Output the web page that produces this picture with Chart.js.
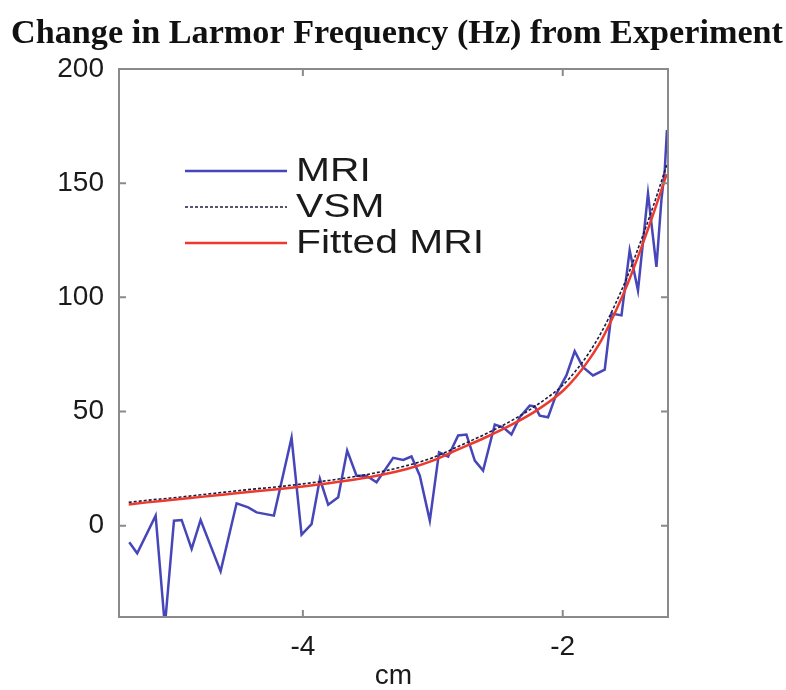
<!DOCTYPE html>
<html>
<head>
<meta charset="utf-8">
<title>Change in Larmor Frequency</title>
<script src="https://cdn.jsdelivr.net/npm/chart.js@4.4.1/dist/chart.umd.min.js"></script>
<style>
  html, body { margin: 0; padding: 0; background: #fff; }
  #wrap { width: 786px; height: 690px; }
</style>
</head>
<body>
<div id="wrap"><canvas id="chart" width="786" height="690"></canvas></div>
<script>
// MRI measurement (cm, Hz)
const mriX = [-5.336, -5.275, -5.133, -5.062, -4.992, -4.933, -4.856, -4.787, -4.633, -4.51,
  -4.421, -4.356, -4.223, -4.087, -4.01, -3.933, -3.869, -3.805, -3.728, -3.659,
  -3.587, -3.51, -3.433, -3.305, -3.228, -3.164, -3.1, -3.023, -2.952, -2.882,
  -2.805, -2.741, -2.677, -2.613, -2.523, -2.459, -2.395, -2.331, -2.254, -2.215,
  -2.177, -2.113, -2.048, -1.972, -1.908, -1.844, -1.767, -1.677, -1.625, -1.548,
  -1.485, -1.421, -1.344, -1.279, -1.241, -1.215, -1.198];
const mriY = [-7.3, -12.1, 4.4, -44, 2.2, 2.5, -10.2, 2.5, -20, 9.8,
  8.0, 5.8, 4.4, 38.5, -3.9, 0.7, 20.5, 9.2, 12.4, 32.9,
  21.9, 21.9, 19, 29.7, 28.8, 30.3, 21.9, 2.2, 32.1, 30.3,
  39.5, 39.9, 28.5, 24.1, 44.3, 43.1, 39.9, 47.5, 52.6, 52.2,
  48.2, 47.5, 57.8, 65.8, 76.4, 69.4, 65.8, 68.3, 92.9, 92.1,
  120.6, 103, 145.5, 113.3, 142.5, 155.7, 173.2];

// VSM and fitted MRI curves, sampled along x
const curveX = [-5.34, -5.2, -5.0, -4.8, -4.6, -4.4, -4.2, -4.0, -3.8, -3.6, -3.4, -3.2, -3.0,
  -2.8, -2.6, -2.4, -2.2, -2.0, -1.9, -1.8, -1.7, -1.6, -1.5, -1.4, -1.3, -1.2];
const vsmY = [10.2, 11.1, 12.2, 13.4, 14.7, 15.9, 17.0, 18.3, 19.8, 21.5, 23.6, 26.3, 29.8,
  34.8, 40.0, 45.8, 52.8, 61.5, 67.8, 75.5, 85.0, 96.5, 109.5, 124.5, 140.5, 158.0];
const fitY = [9.3, 10.2, 11.3, 12.5, 13.7, 14.9, 16.0, 17.2, 18.6, 20.2, 22.2, 24.8, 28.5,
  33.5, 38.5, 44.0, 50.5, 59.0, 65.0, 72.5, 81.5, 93.0, 106.0, 121.0, 137.0, 154.0];

const xTicks = [-4, -2];
const yTicks = [0, 50, 100, 150, 200];

const TITLE = 'Change in Larmor Frequency (Hz) from Experiment';
const COLORS = {
  mri: '#4646b8',
  vsm: '#1c1c3a',
  fit: '#ec3a2e',
  frame: '#8a8a8a',
  text: '#1a1a1a'
};

const toPoints = (xs, ys) => xs.map((x, i) => ({ x: x, y: ys[i] }));

// box around the plot with inward tick marks (all four sides)
const framePlugin = {
  id: 'frame',
  afterDraw(chart) {
    const { ctx, chartArea: a, scales } = chart;
    const tick = 7;
    ctx.save();
    ctx.strokeStyle = COLORS.frame;
    ctx.lineWidth = 2;
    ctx.strokeRect(a.left, a.top, a.right - a.left, a.bottom - a.top);
    ctx.beginPath();
    xTicks.forEach(v => {
      const px = scales.x.getPixelForValue(v);
      ctx.moveTo(px, a.bottom); ctx.lineTo(px, a.bottom - tick);
      ctx.moveTo(px, a.top); ctx.lineTo(px, a.top + tick);
    });
    yTicks.forEach(v => {
      const py = scales.y.getPixelForValue(v);
      ctx.moveTo(a.left, py); ctx.lineTo(a.left + tick, py);
      ctx.moveTo(a.right, py); ctx.lineTo(a.right - tick, py);
    });
    ctx.stroke();
    ctx.restore();
  }
};

// bold serif heading, squeezed to the figure width
const headingPlugin = {
  id: 'heading',
  afterDraw(chart) {
    const ctx = chart.ctx;
    ctx.save();
    ctx.font = 'bold 33px "Liberation Serif", "Times New Roman", serif';
    ctx.fillStyle = '#111';
    ctx.textBaseline = 'alphabetic';
    const w = ctx.measureText(TITLE).width;
    const sx = 772 / w;
    ctx.translate(397, 43);
    ctx.scale(sx, 1);
    ctx.textAlign = 'center';
    ctx.fillText(TITLE, 0, 0);
    ctx.restore();
  }
};

// legend inside the axes, no box
const keyPlugin = {
  id: 'key',
  afterDraw(chart) {
    const ctx = chart.ctx;
    const entries = [
      { label: 'MRI', color: COLORS.mri, width: 2.5, dash: [] },
      { label: 'VSM', color: COLORS.vsm, width: 1.6, dash: [3, 2] },
      { label: 'Fitted MRI', color: COLORS.fit, width: 2.5, dash: [] }
    ];
    const x0 = 185, x1 = 287, tx = 296, y0 = 171, gap = 36;
    ctx.save();
    ctx.font = '34px "Liberation Sans", Arial, sans-serif';
    const sx = 188 / ctx.measureText('Fitted MRI').width;
    entries.forEach((e, i) => {
      const y = y0 + i * gap;
      ctx.beginPath();
      ctx.setLineDash(e.dash);
      ctx.strokeStyle = e.color;
      ctx.lineWidth = e.width;
      ctx.moveTo(x0, y); ctx.lineTo(x1, y);
      ctx.stroke();
      ctx.setLineDash([]);
      ctx.save();
      ctx.translate(tx, y);
      ctx.scale(sx, 1);
      ctx.fillStyle = COLORS.text;
      ctx.textBaseline = 'middle';
      ctx.fillText(e.label, 0, 1);
      ctx.restore();
    });
    ctx.restore();
  }
};

const tickFont = { family: '"Liberation Sans", Arial, sans-serif', size: 28 };

new Chart(document.getElementById('chart'), {
  type: 'line',
  data: {
    datasets: [
      {
        label: 'MRI',
        data: toPoints(mriX, mriY),
        borderColor: COLORS.mri,
        borderWidth: 2.5,
        pointRadius: 0,
        tension: 0,
        order: 3
      },
      {
        label: 'VSM',
        data: toPoints(curveX, vsmY),
        borderColor: COLORS.vsm,
        borderWidth: 1.6,
        borderDash: [3, 2],
        pointRadius: 0,
        cubicInterpolationMode: 'monotone',
        order: 2
      },
      {
        label: 'Fitted MRI',
        data: toPoints(curveX, fitY),
        borderColor: COLORS.fit,
        borderWidth: 2.5,
        pointRadius: 0,
        cubicInterpolationMode: 'monotone',
        order: 1
      }
    ]
  },
  options: {
    responsive: false,
    animation: false,
    events: [],
    layout: { padding: { top: 69, right: 118, bottom: 0, left: 0 } },
    scales: {
      x: {
        type: 'linear',
        min: -5.415,
        max: -1.19,
        afterFit: s => { s.height = 73; },
        afterBuildTicks: s => { s.ticks = xTicks.map(v => ({ value: v })); },
        grid: { display: false, drawTicks: false },
        border: { display: false },
        ticks: { font: tickFont, color: COLORS.text, padding: 13, maxRotation: 0 },
        title: {
          display: true,
          text: 'cm',
          font: { family: tickFont.family, size: 28, lineHeight: 1 },
          color: COLORS.text,
          padding: { top: 0, bottom: 0 }
        }
      },
      y: {
        min: -40,
        max: 200,
        afterFit: s => { s.width = 119; },
        afterBuildTicks: s => { s.ticks = yTicks.map(v => ({ value: v })); },
        grid: { display: false, drawTicks: false },
        border: { display: false },
        ticks: { font: tickFont, color: COLORS.text, padding: 15 }
      }
    },
    plugins: {
      legend: { display: false },
      title: { display: false },
      tooltip: { enabled: false }
    }
  },
  plugins: [framePlugin, headingPlugin, keyPlugin]
});
</script>
</body>
</html>
